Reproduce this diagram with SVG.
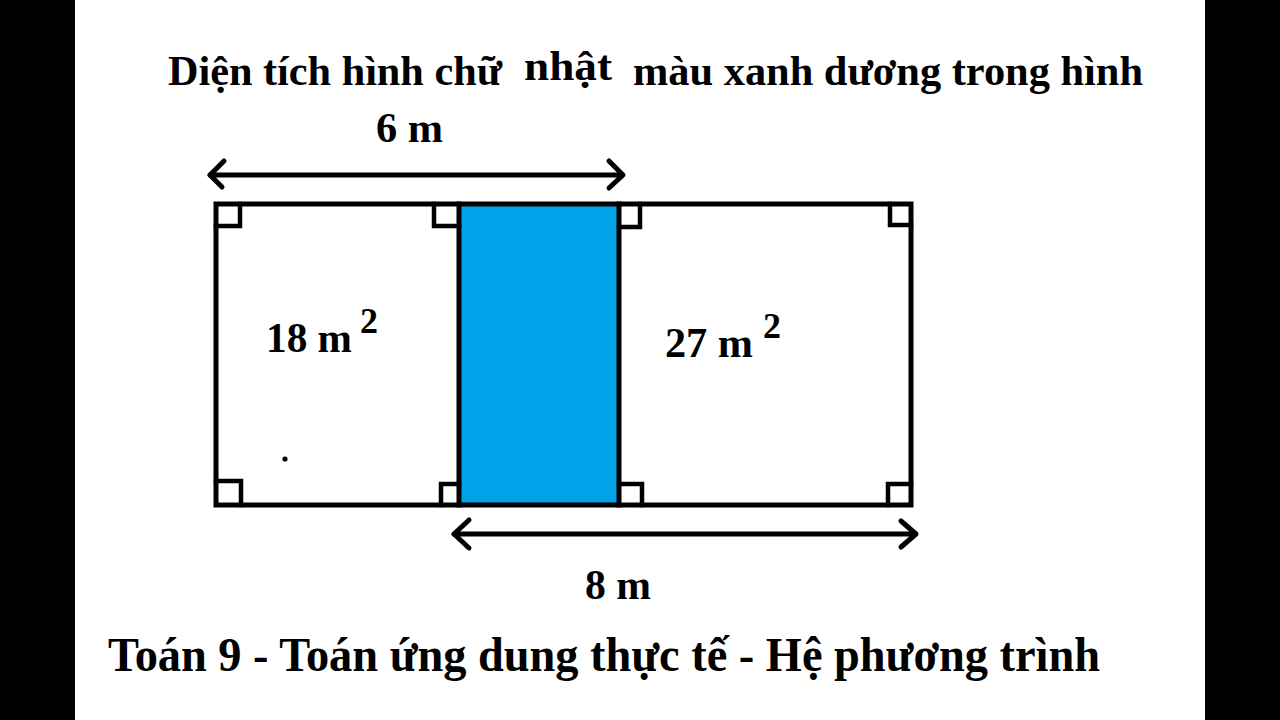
<svg xmlns="http://www.w3.org/2000/svg" width="1280" height="720" viewBox="0 0 1280 720">
<style>
.t{font-family:"Liberation Serif","Times New Roman",serif;font-weight:bold;fill:#000}
.ln{stroke:#000;stroke-width:5;fill:none;stroke-linecap:square}
.mk{stroke:#000;stroke-width:4.5;fill:none;stroke-linecap:square;stroke-linejoin:miter}
.ar{stroke:#000;stroke-width:5;fill:none;stroke-linecap:round;stroke-linejoin:round}
</style>
<rect x="0" y="0" width="1280" height="720" fill="#fff"/>
<rect x="0" y="0" width="75" height="720" fill="#000"/>
<rect x="1205" y="0" width="75" height="720" fill="#000"/>
<g id="title">
<text class="t" x="168" y="85" font-size="42" textLength="334" lengthAdjust="spacingAndGlyphs">Diện tích hình chữ</text>
<text class="t" x="524" y="80" font-size="42" textLength="88" lengthAdjust="spacingAndGlyphs">nhật</text>
<text class="t" x="633" y="85" font-size="42" textLength="510" lengthAdjust="spacingAndGlyphs">màu xanh dương trong hình</text>
</g>
<g id="left-rect">
<rect x="216" y="204" width="243" height="301" fill="#fff"/>
<text class="t" x="266" y="352" font-size="42" textLength="86" lengthAdjust="spacingAndGlyphs">18 m</text>
<text class="t" x="360" y="333" font-size="36">2</text>
<circle cx="285" cy="459" r="2.6" fill="#000"/>
</g>
<g id="blue-rect">
<rect x="459" y="204" width="160" height="301" fill="#00A2E8"/>
</g>
<g id="right-rect">
<text class="t" x="665" y="357" font-size="42" textLength="88" lengthAdjust="spacingAndGlyphs">27 m</text>
<text class="t" x="763" y="338" font-size="36">2</text>
</g>
<g id="outline">
<rect class="ln" x="216" y="204" width="695" height="301"/>
<line class="ln" x1="459" y1="204" x2="459" y2="505"/>
<line class="ln" x1="619" y1="204" x2="619" y2="505"/>
</g>
<g id="right-angles">
<polyline class="mk" points="240,204 240,226 216,226"/>
<polyline class="mk" points="434,204 434,226 459,226"/>
<polyline class="mk" points="640,204 640,227 619,227"/>
<polyline class="mk" points="890,204 890,225 911,225"/>
<polyline class="mk" points="216,481 241,481 241,505"/>
<polyline class="mk" points="441,505 441,484 459,484"/>
<polyline class="mk" points="619,484 642,484 642,505"/>
<polyline class="mk" points="911,484 888,484 888,505"/>
</g>
<g id="connectors">
<line class="ar" x1="210" y1="175" x2="622" y2="175"/>
<polyline class="ar" points="224,161 210,175 222,187"/>
<polyline class="ar" points="609,161 623,175 609,188"/>
<line class="ar" x1="454" y1="534" x2="915" y2="534"/>
<polyline class="ar" points="469,520 454,534 469,548"/>
<polyline class="ar" points="901,521 916,534 901,547"/>
</g>
<g id="labels">
<text class="t" x="376" y="142" font-size="42" textLength="67" lengthAdjust="spacingAndGlyphs">6 m</text>
<text class="t" x="585" y="599" font-size="42" textLength="66" lengthAdjust="spacingAndGlyphs">8 m</text>
<text class="t" x="108" y="671" font-size="48" textLength="992" lengthAdjust="spacingAndGlyphs">Toán 9 - Toán ứng dung thực tế - Hệ phương trình</text>
</g>
</svg>
